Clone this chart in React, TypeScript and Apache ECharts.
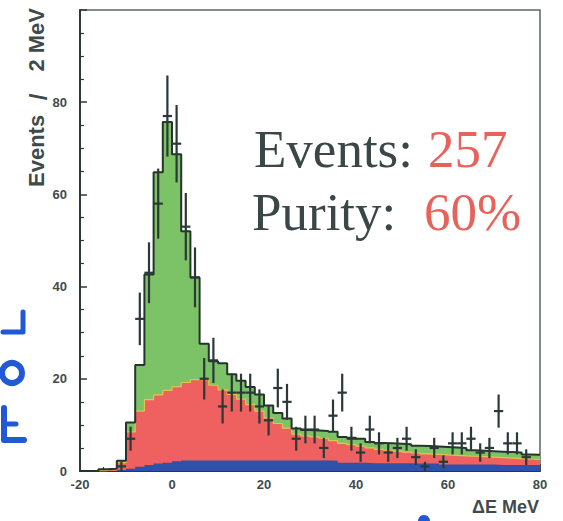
import React, { useEffect, useRef } from "react";
import * as echarts from "echarts";

// Histogram bins: 2 MeV wide, centres from -19 to 79 MeV
const binCenters = [
  -19, -17, -15, -13, -11, -9, -7, -5, -3, -1, 1, 3, 5, 7, 9, 11, 13, 15, 17, 19,
  21, 23, 25, 27, 29, 31, 33, 35, 37, 39, 41, 43, 45, 47, 49, 51, 53, 55, 57, 59,
  61, 63, 65, 67, 69, 71, 73, 75, 77, 79,
];
// Blue background component
const blueBg = [
  0, 0, 0, 0, 0.2, 0.5, 0.9, 1.3, 1.6, 1.8, 2.1, 2.3, 2.3, 2.3, 2.3, 2.3, 2.3, 2.3, 2.3, 2.3,
  2.3, 2.3, 2.3, 2.3, 2.3, 2.3, 2.3, 2.2, 1.8, 1.8, 1.8, 1.7, 1.7, 1.7, 1.7, 1.7, 1.6, 1.6, 1.6, 1.4,
  1.4, 1.4, 1.4, 1.4, 1.4, 1.3, 1.3, 1.3, 1.3, 1.3,
];
// Red background component
const redBg = [
  0, 0, 0.1, 0.3, 1.6, 8.0, 12.1, 14.2, 14.9, 15.7, 16.2, 16.9, 17.5, 17.5, 16.3, 15.3, 14.3, 13.3, 12.1, 10.7,
  9.2, 8.0, 7.0, 5.7, 5.3, 5.1, 4.8, 4.4, 4.2, 3.9, 3.6, 3.3, 3.0, 2.8, 2.6, 2.4, 2.3, 2.1, 2.0, 2.1,
  2.0, 1.9, 1.8, 1.7, 1.6, 1.6, 1.5, 1.4, 1.3, 1.2,
];
// Green signal component
const signal = [
  0, 0, 0.3, 0.2, 0.4, 2.0, 10.0, 27.1, 48.3, 58.2, 50.4, 32.8, 22.2, 7.8, 5.2, 5.8, 4.4, 4.0, 3.8, 3.6,
  2.7, 2.3, 2.1, 1.2, 1.3, 1.4, 1.6, 1.9, 1.4, 1.5, 1.6, 1.3, 1.4, 1.5, 1.6, 1.7, 1.6, 1.7, 1.7, 1.7,
  1.7, 1.7, 1.3, 1.3, 1.3, 1.3, 1.3, 1.3, 1.0, 1.0,
];

// Data points
const dataE = [
  -11, -9, -7, -5, -3, -1, 1, 3, 5, 7, 9, 11, 13, 15, 17, 19, 21, 23, 25, 27,
  29, 31, 33, 35, 37, 39, 41, 43, 45, 47, 49, 51, 53, 55, 57, 59, 61, 63, 65, 67,
  69, 71, 73, 75, 77,
];
const dataN = [
  1, 7, 33, 43, 58, 77, 71, 53, 42, 20, 24, 14, 17, 17, 17, 14, 11, 18, 15, 7,
  9, 9, 5, 12, 17, 7, 4, 9, 6, 4, 5, 7, 3, 1, 5, 2, 6, 6, 7, 4,
  5, 13, 6, 6, 3,
];
const dataErr = [
  1, 2.6, 5.7, 6.6, 7.6, 8.8, 8.4, 7.3, 6.5, 4.5, 4.9, 3.7, 4.1, 4.1, 4.1, 3.7, 3.3, 4.2, 3.9, 2.6,
  3, 3, 2.2, 3.5, 4.1, 2.6, 2, 3, 2.4, 2, 2.2, 2.6, 1.7, 1, 2.2, 1.4, 2.4, 2.4, 2.6, 2,
  2.2, 3.6, 2.4, 2.4, 1.7,
];

const yTickLabels = ["0", "20", "40", "60", "80", ""];
const binHalf = 1;

const INK = "#2b3838";
const LABEL = "#3f4b4b";

function stepPoints(vals: number[]) {
  const pts: number[][] = binCenters.map((c, i) => [c - binHalf, vals[i]]);
  pts.push([binCenters[binCenters.length - 1] + binHalf, vals[vals.length - 1]]);
  return pts;
}

export default function App() {
  const ref = useRef<HTMLDivElement>(null);
  useEffect(() => {
    if (!ref.current) return;
    const chart = echarts.init(ref.current, undefined, { renderer: "svg" });
    const blueTop = blueBg.map((b) => b);
    const redTop = blueBg.map((b, i) => b + redBg[i]);
    const total = redTop.map((r, i) => r + signal[i]);

    const areaSeries = (name: string, vals: number[], color: string, z: number, line?: any) => ({
      name,
      type: "line",
      step: "end",
      data: stepPoints(vals),
      showSymbol: false,
      symbol: "none",
      z,
      lineStyle: line || { width: 0, opacity: 0 },
      areaStyle: { color, opacity: 1 },
      silent: true,
    });

    const axisCommon = {
      axisLine: { show: true, onZero: false, lineStyle: { color: INK, width: 2 } },
      axisTick: { show: true, inside: true, length: 7, lineStyle: { color: INK, width: 1.5 } },
      minorTick: { show: true, splitNumber: 4, length: 4, lineStyle: { color: INK, width: 1.2 } },
      splitLine: { show: false },
    };

    const txt = (text: string, x: number, y: number, fill: string, extra: any = {}) => ({
      type: "text",
      x,
      y,
      ...(extra.rotation !== undefined ? { rotation: extra.rotation } : {}),
      style: {
        text,
        fill,
        fontFamily: extra.fontFamily || "Liberation Serif",
        fontWeight: extra.fontWeight || "normal",
        fontSize: extra.fontSize || 53,
        textAlign: extra.align || "left",
        textVerticalAlign: "middle",
        align: extra.align || "left",
        verticalAlign: "middle",
      },
    });

    const PEN = "#2158d6";

    chart.setOption({
      animation: false,
      backgroundColor: "#ffffff",
      grid: {
        left: 80,
        right: 23,
        top: 10,
        bottom: 50,
        show: true,
        borderColor: "#5a6666",
        borderWidth: 1.5,
        backgroundColor: "transparent",
      },
      xAxis: {
        type: "value",
        min: -20,
        max: 80,
        interval: 20,
        ...axisCommon,
        axisLabel: {
          color: LABEL,
          fontFamily: "Liberation Sans Narrow, Liberation Sans",
          fontWeight: "bold",
          fontSize: 13,
          margin: 7,
        },
      },
      yAxis: {
        type: "value",
        min: 0,
        max: 100,
        interval: 20,
        ...axisCommon,
        axisLabel: {
          color: LABEL,
          fontFamily: "Liberation Sans Narrow, Liberation Sans",
          fontWeight: "bold",
          fontSize: 13,
          margin: 13,
          formatter: (v: number) => yTickLabels[Math.round(v / 20)] ?? "",
        },
      },
      series: [
        areaSeries("signal", total, "#7cc267", 1),
        areaSeries("bg1", redTop, "#ef6060", 2, { width: 1.2, color: "#e6c24c" }),
        areaSeries("bg2", blueTop, "#2c52ad", 3),
        {
          name: "fit",
          type: "line",
          step: "end",
          data: stepPoints(total),
          showSymbol: false,
          symbol: "none",
          z: 4,
          lineStyle: { color: "#25352b", width: 2 },
          silent: true,
        },
        {
          name: "data",
          type: "custom",
          z: 5,
          clip: true,
          data: dataE.map((e, i) => [e, dataN[i], dataErr[i]]),
          encode: { x: 0, y: 1 },
          renderItem: (_p: any, api: any) => {
            const x = api.value(0);
            const y = api.value(1);
            const e = api.value(2);
            const c = api.coord([x, y]);
            const top = api.coord([x, y + e]);
            const bot = api.coord([x, Math.max(0, y - e)]);
            const l = api.coord([x - binHalf, y]);
            const r = api.coord([x + binHalf, y]);
            return {
              type: "group",
              children: [
                {
                  type: "line",
                  shape: { x1: c[0], y1: top[1], x2: c[0], y2: bot[1] },
                  style: { stroke: INK, lineWidth: 2.2 },
                },
                {
                  type: "line",
                  shape: { x1: l[0], y1: c[1], x2: r[0], y2: c[1] },
                  style: { stroke: INK, lineWidth: 2.2 },
                },
              ],
            };
          },
        },
      ],
      graphic: [
        txt("Events:", 254, 149, "#3b4747"),
        txt("257", 428, 149, "#e8625c"),
        txt("Purity:", 252, 212, "#3b4747"),
        txt("60%", 424, 212, "#e8625c"),
        txt("Events", 36, 187, LABEL, { rotation: Math.PI / 2, fontFamily: "Liberation Sans", fontWeight: "bold", fontSize: 22 }),
        txt("/", 38, 97, LABEL, { rotation: Math.PI / 2, fontFamily: "Liberation Sans", fontWeight: "bold", fontSize: 24, align: "center" }),
        txt("2 MeV", 36, 8, LABEL, { rotation: Math.PI / 2, fontFamily: "Liberation Sans", fontWeight: "bold", fontSize: 22, align: "right" }),
        txt("ΔE MeV", 539, 507, LABEL, { fontFamily: "Liberation Sans", fontWeight: "bold", fontSize: 18, align: "right" }),
        // pen marks from the scanned slide
        {
          type: "polyline",
          shape: { points: [[3, 332], [23, 332], [23, 312]] },
          style: { stroke: PEN, lineWidth: 5, fill: "none", lineCap: "round", lineJoin: "round" },
        },
        {
          type: "circle",
          shape: { cx: 12, cy: 373, r: 10 },
          style: { stroke: PEN, lineWidth: 6, fill: "none" },
        },
        {
          type: "polyline",
          shape: { points: [[4, 408], [4, 440], [24, 440]] },
          style: { stroke: PEN, lineWidth: 6, fill: "none", lineCap: "round", lineJoin: "round" },
        },
        {
          type: "polyline",
          shape: { points: [[4, 424], [16, 424]] },
          style: { stroke: PEN, lineWidth: 5, fill: "none", lineCap: "round" },
        },
        {
          type: "circle",
          shape: { cx: 424, cy: 521, r: 6 },
          style: { fill: PEN },
        },
      ],
    });
    return () => chart.dispose();
  }, []);
  return (
    <div
      ref={ref}
      style={{ position: "absolute", left: 0, top: 0, width: 563, height: 521 }}
    />
  );
}
